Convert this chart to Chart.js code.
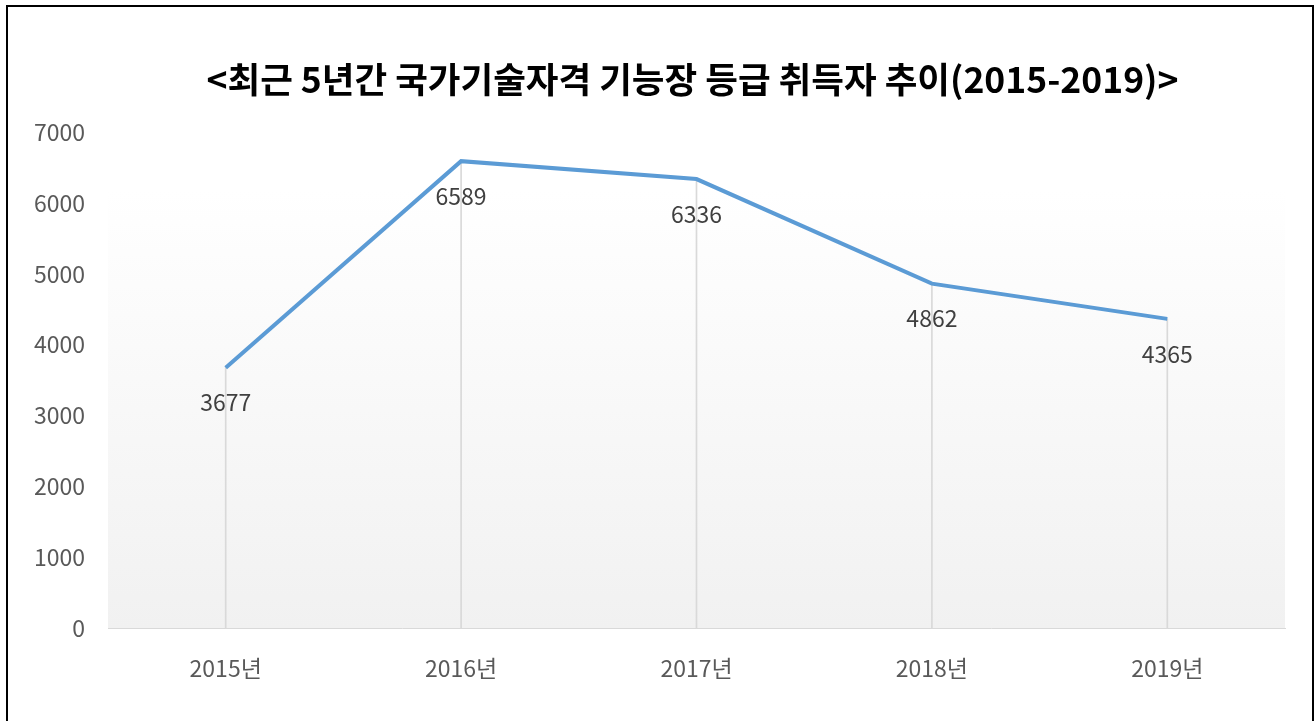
<!DOCTYPE html>
<html>
<head>
<meta charset="utf-8">
<script src="https://cdn.jsdelivr.net/npm/chart.js@4"></script>
<style>
  body { margin: 0; background: #fff; overflow: hidden; }
  #chart { position: absolute; left: 0; top: 0; }
  #frame { position: absolute; left: 6px; top: 5px; width: 1308px; height: 800px;
           border: 2px solid #000; box-sizing: border-box; pointer-events: none; }
</style>
</head>
<body>
<canvas id="chart" width="1316" height="721"></canvas>
<div id="frame"></div>
<script>
const years = ["2015년", "2016년", "2017년", "2018년", "2019년"];
const holders = [3677, 6589, 6336, 4862, 4365];
const yTicks = [0, 1000, 2000, 3000, 4000, 5000, 6000, 7000];
const title = "<최근 5년간 국가기술자격 기능장 등급 취득자 추이(2015-2019)>";

const font = "'Noto Sans CJK KR', 'Noto Sans', sans-serif";

// plot area background: white fading to light grey
const plotBg = {
    id: "plotBg",
    beforeDraw(chart) {
        const a = chart.chartArea, ctx = chart.ctx;
        const top = a.top + 58;
        const g = ctx.createLinearGradient(0, top, 0, a.bottom);
        g.addColorStop(0, "#ffffff");
        g.addColorStop(1, "#f1f1f1");
        ctx.save();
        ctx.fillStyle = g;
        ctx.fillRect(a.left, top, a.right - a.left, a.bottom - top);
        ctx.restore();
    }
};

// title centred over the plot area, like the original
const plotTitle = {
    id: "plotTitle",
    afterDraw(chart) {
        const a = chart.chartArea, ctx = chart.ctx;
        ctx.save();
        ctx.font = "bold 35.5px " + font;
        ctx.fillStyle = "#000";
        ctx.textAlign = "center";
        ctx.textBaseline = "middle";
        ctx.fillText(title, (a.left + a.right) / 2 - 4, 80);
        ctx.restore();
    }
};

// value labels under each point of the line
const valueLabels = {
    id: "valueLabels",
    afterDatasetsDraw(chart) {
        const ctx = chart.ctx;
        const meta = chart.getDatasetMeta(0);
        ctx.save();
        ctx.font = "23px " + font;
        ctx.fillStyle = "#404040";
        ctx.textAlign = "center";
        ctx.textBaseline = "middle";
        meta.data.forEach((pt, i) => {
            ctx.fillText(String(holders[i]), pt.x, pt.y + 35);
        });
        ctx.restore();
    }
};

new Chart(document.getElementById("chart"), {
    data: {
        labels: years,
        datasets: [{
            type: "line",
            data: holders,
            borderColor: "#5b9bd5",
            borderWidth: 4,
            pointRadius: 0,
            tension: 0
        }, {
            // drop lines
            type: "bar",
            data: holders,
            backgroundColor: "#d9d9d9",
            barThickness: 1
        }]
    },
    options: {
        responsive: false,
        animation: false,
        layout: { padding: { left: 0, right: 31, top: 132, bottom: 21 } },
        plugins: {
            legend: { display: false },
            tooltip: { enabled: false },
            title: { display: false }
        },
        scales: {
            x: {
                offset: true,
                grid: { display: false },
                border: { display: true, color: "#d9d9d9", width: 1 },
                ticks: {
                    color: "#595959",
                    font: { family: font, size: 23 },
                    padding: 18
                }
            },
            y: {
                min: 0,
                max: 7000,
                afterFit(scale) { scale.width = 108; },
                afterBuildTicks(scale) { scale.ticks = yTicks.map(v => ({ value: v })); },
                grid: { display: false, drawTicks: false },
                border: { display: false },
                ticks: {
                    color: "#595959",
                    font: { family: font, size: 23 },
                    padding: 23,
                    callback: v => String(v)
                }
            }
        }
    },
    plugins: [plotBg, plotTitle, valueLabels]
});
</script>
</body>
</html>
